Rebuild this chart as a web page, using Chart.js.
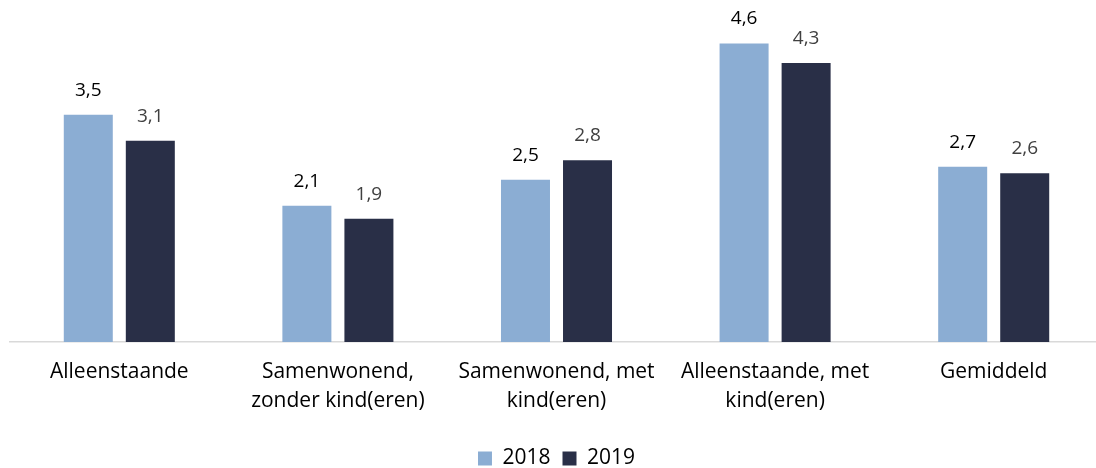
<!DOCTYPE html>
<html>
<head>
<meta charset="utf-8">
<script src="https://cdn.jsdelivr.net/npm/chart.js@4.4.1/dist/chart.umd.min.js"></script>
<style>
html,body{margin:0;padding:0;background:#fff;overflow:hidden;width:1096px;height:468px;}
#wrap{position:absolute;left:0;top:0;width:1119px;height:479px;}
</style>
</head>
<body>
<div id="wrap"><canvas id="c" width="1119" height="479"></canvas></div>
<script>
const categories = [
  ["Alleenstaande"],
  ["Samenwonend,", "zonder kind(eren)"],
  ["Samenwonend, met", "kind(eren)"],
  ["Alleenstaande, met", "kind(eren)"],
  ["Gemiddeld"]
];
const seriesNames = ["2018", "2019"];
const values2018 = [3.5, 2.1, 2.5, 4.6, 2.7];
const values2019 = [3.1, 1.9, 2.8, 4.3, 2.6];

const FONT = "'Open Sans', 'Liberation Sans', sans-serif";

const dataLabels = {
  id: 'dataLabels',
  afterDatasetsDraw(chart) {
    const ctx = chart.ctx;
    ctx.save();
    ctx.font = "19px " + FONT;
    ctx.textAlign = 'center';
    ctx.textBaseline = 'alphabetic';
    chart.data.datasets.forEach((ds, i) => {
      const meta = chart.getDatasetMeta(i);
      ctx.fillStyle = ds.labelColor;
      meta.data.forEach((el, j) => {
        const txt = ds.data[j].toFixed(1).replace('.', ',');
        ctx.fillText(txt, el.x, el.y - 19);
      });
    });
    ctx.restore();
  }
};

new Chart(document.getElementById('c'), {
  type: 'bar',
  data: {
    labels: categories,
    datasets: [
      { label: seriesNames[0], data: values2018, backgroundColor: '#8BADD3', labelColor: '#000000',
        categoryPercentage: 0.5675, barPercentage: 0.79 },
      { label: seriesNames[1], data: values2019, backgroundColor: '#292F47', labelColor: '#404040',
        categoryPercentage: 0.5675, barPercentage: 0.79 }
    ]
  },
  options: {
    responsive: false,
    animation: false,
    layout: { padding: { left: 10, right: 16, top: 17.5, bottom: 0 } },
    plugins: {
      legend: {
        position: 'bottom',
        labels: {
          font: { family: FONT, size: 21 },
          color: '#000',
          boxWidth: 14,
          boxHeight: 14,
          padding: 12
        }
      },
      tooltip: { enabled: false }
    },
    scales: {
      x: {
        grid: { display: false, drawTicks: false },
        border: { display: true, color: '#D9D9D9', width: 1.5 },
        ticks: {
          font: { family: FONT, size: 21, lineHeight: 1.38 },
          color: '#000',
          padding: 16,
          maxRotation: 0,
          autoSkip: false
        },
        afterFit(scale) { scale.height = 94; }
      },
      y: {
        display: false,
        min: 0,
        max: 5
      }
    }
  },
  plugins: [dataLabels]
});
</script>
</body>
</html>
